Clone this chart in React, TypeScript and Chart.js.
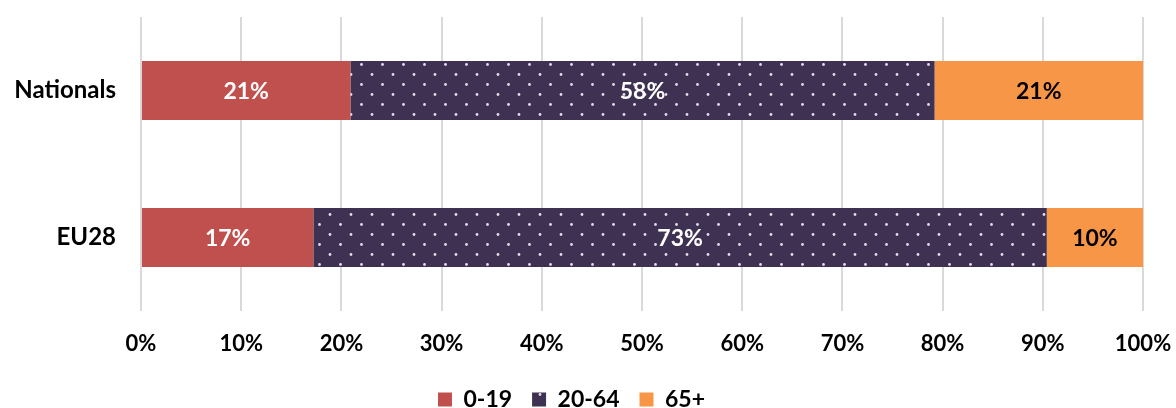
import React, { useEffect, useRef } from "react";
import { Chart, registerables } from "chart.js";

Chart.register(...registerables);

const categories = ["Nationals", "EU28"];
const seriesNames = ["0-19", "20-64", "65+"];
const young = [20.9, 17.2];
const working = [58.3, 73.2];
const old = [20.8, 9.6];
const xTicks = [0, 10, 20, 30, 40, 50, 60, 70, 80, 90, 100];

const FONT = "Lato, 'Open Sans', sans-serif";

function makePattern(): CanvasPattern | string {
  const c = document.createElement("canvas");
  c.width = 21;
  c.height = 20;
  const g = c.getContext("2d");
  if (!g) return "#3F3151";
  g.fillStyle = "#3F3151";
  g.fillRect(0, 0, 21, 20);
  g.fillStyle = "rgba(235,230,240,0.95)";
  g.beginPath();
  g.arc(4.5, 4.5, 1.4, 0, Math.PI * 2);
  g.fill();
  g.beginPath();
  g.arc(15, 14.5, 1.4, 0, Math.PI * 2);
  g.fill();
  const p = g.createPattern(c, "repeat");
  return p || "#3F3151";
}

const labelPlugin = {
  id: "barLabels",
  afterDatasetsDraw(chart: any) {
    const ctx = chart.ctx;
    ctx.save();
    ctx.font = `bold 23px ${FONT}`;
    ctx.textAlign = "center";
    ctx.textBaseline = "middle";
    chart.data.datasets.forEach((ds: any, di: number) => {
      const meta = chart.getDatasetMeta(di);
      meta.data.forEach((el: any, i: number) => {
        const v = ds.data[i];
        const cx = (el.x + el.base) / 2;
        ctx.fillStyle = di === 2 ? "#000000" : "#FFFFFF";
        ctx.fillText(Math.round(v) + "%", cx, el.y + 1);
      });
    });
    ctx.restore();
  },
};

export default function App() {
  const ref = useRef<HTMLCanvasElement | null>(null);
  useEffect(() => {
    document.body.style.margin = "0";
    document.body.style.overflow = "hidden";
    if (!ref.current) return;
    const pattern = makePattern();
    const chart = new Chart(ref.current, {
      type: "bar",
      data: {
        labels: categories,
        datasets: [
          { label: seriesNames[0], data: young, backgroundColor: "#C0504D" },
          { label: seriesNames[1], data: working, backgroundColor: pattern as any },
          { label: seriesNames[2], data: old, backgroundColor: "#F79646" },
        ],
      },
      options: {
        indexAxis: "y",
        animation: false,
        responsive: false,
        maintainAspectRatio: false,
        layout: { padding: { top: 17, right: 33, left: 0, bottom: 0 } },
        datasets: {
          bar: { barPercentage: 0.4, categoryPercentage: 1.0 },
        },
        scales: {
          x: {
            stacked: true,
            min: 0,
            max: 100,
            afterBuildTicks(axis: any) {
              axis.ticks = xTicks.map((v) => ({ value: v }));
            },
            ticks: {
              callback: (v: any) => v + "%",
              color: "#000000",
              font: { family: FONT, size: 22, weight: "bold" },
              padding: 20,
              maxRotation: 0,
            },
            grid: { color: "#D9D9D9", lineWidth: 2, drawTicks: false },
            border: { display: false },
            afterFit(axis: any) {
              axis.height = 57;
              axis.paddingLeft = 0;
              axis.paddingRight = 0;
            },
          },
          y: {
            stacked: true,
            ticks: {
              color: "#000000",
              font: { family: FONT, size: 24, weight: "bold" },
              padding: 25,
            },
            grid: { display: false, drawTicks: false },
            border: { display: false },
            afterFit(axis: any) {
              axis.width = 141;
              axis.paddingTop = 0;
              axis.paddingBottom = 0;
            },
          },
        },
        plugins: {
          legend: {
            position: "bottom",
            labels: {
              color: "#000000",
              font: { family: FONT, size: 23, weight: "bold" },
              boxWidth: 14,
              boxHeight: 14,
              padding: 20,
            },
          },
          tooltip: { enabled: false },
        },
      },
      plugins: [labelPlugin],
    });
    return () => chart.destroy();
  }, []);
  return (
    <div style={{ width: 1176, height: 408, overflow: "hidden" }}>
      <canvas ref={ref} width={1176} height={421} style={{ display: "block" }} />
    </div>
  );
}
